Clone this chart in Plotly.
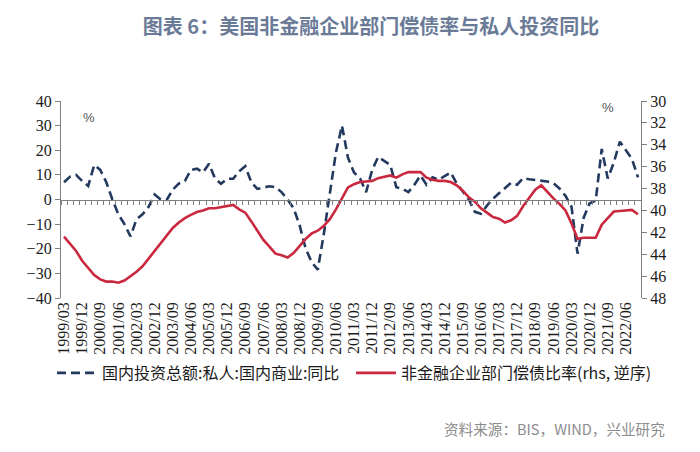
import plotly.graph_objects as go

# ---------------- data ----------------
quarters = [f"{y}/{m:02d}" for y in range(1999, 2023) for m in (3, 6, 9, 12)]

tick_labels = ["1999/03", "1999/12", "2000/09", "2001/06", "2002/03", "2002/12",
               "2003/09", "2004/06", "2005/03", "2005/12", "2006/09", "2007/06",
               "2008/03", "2008/12", "2009/09", "2010/06", "2011/03", "2011/12",
               "2012/09", "2013/06", "2014/03", "2014/12", "2015/09", "2016/06",
               "2017/03", "2017/12", "2018/09", "2019/06", "2020/03", "2020/12",
               "2021/09", "2022/06"]

# 国内投资总额:私人:国内商业:同比 (%), left axis
invest_yoy = [7, 9.3, 10, 7.5, 5.5, 14, 12, 7, 0, -6,
              -10, -15, -8, -6, -3, 2, 0, -0.2, 4, 6.5,
              7.5, 12, 12.5, 11, 14.5, 8.5, 6.4, 8.4, 8.4, 11.5,
              13.5, 7, 4.3, 5, 5.4, 5, 3, 0, -3.5, -10.5,
              -20, -25.5, -28.5, -14, 3, 19, 30, 17, 11, 8.5,
              3, 12, 17.3, 15.5, 14, 5, 4.4, 3, 6, 9.8,
              6, 9, 8, 9.5, 11, 6.5, 3, 0, -5, -5.8,
              -2.5, 0.3, 2.5, 4.5, 6.8, 6, 8.7, 8.2, 8, 7.5,
              7.3, 6.6, 4.5, 1.5, -3, -22, -7.5, -1.5, -0.5, 20.5,
              8.5, 15, 23.5, 20, 16.5, 9]

# 非金融企业部门偿债比率 (%), right axis, reversed
dsr = [42.4, 43, 43.7, 44.6, 45.3, 45.9, 46.3, 46.5, 46.5, 46.6,
       46.4, 46.0, 45.6, 45.1, 44.4, 43.6, 42.9, 42.3, 41.6, 41.1,
       40.7, 40.4, 40.15, 40.0, 39.8, 39.8, 39.7, 39.55, 39.5, 39.9,
       40.2, 41.0, 41.9, 42.7, 43.3, 43.95, 44.1, 44.3, 43.9, 43.2,
       42.6, 42.1, 41.85, 41.4, 40.8, 39.9, 38.9, 37.9, 37.6, 37.4,
       37.35, 37.3, 37.05, 36.9, 36.8, 37.0, 36.7, 36.5, 36.5, 36.5,
       37.0, 37.2, 37.3, 37.3, 37.4, 37.7, 38.2, 38.8, 39.2, 39.8,
       40.2, 40.6, 40.75, 41.1, 40.9, 40.5, 39.6, 38.8, 38.1, 37.7,
       38.3, 38.9, 39.4, 40.0, 41.2, 42.6, 42.5, 42.5, 42.5, 41.3,
       40.7, 40.1, 40.05, 40.0, 39.95, 40.35]

name_invest = "国内投资总额:私人:国内商业:同比"
name_dsr = "非金融企业部门偿债比率(rhs, 逆序)"

# ---------------- figure ----------------
AXIS = "#7f7f7f"
SERIF = "Liberation Serif, Times New Roman, serif"
CJK = "Noto Sans CJK SC, sans-serif"

plot_l, plot_r, plot_t, plot_b = 61, 641, 101, 298
W, H = 700, 452


def px_x(p):
    return (p - plot_l) / (plot_r - plot_l)


def px_y(p):
    return (plot_b - p) / (plot_b - plot_t)


fig = go.Figure()

fig.add_trace(go.Scatter(
    x=quarters, y=invest_yoy, name=name_invest, mode="lines",
    line=dict(color="#233a5e", width=2.6, dash="9px,5px"),
    xaxis="x", yaxis="y"))

fig.add_trace(go.Scatter(
    x=quarters, y=dsr, name=name_dsr, mode="lines",
    line=dict(color="#c9283e", width=2.6),
    xaxis="x", yaxis="y2"))

# helper (empty) trace so the zero-line tick axis gets drawn
fig.add_trace(go.Scatter(x=[], y=[], xaxis="x2", yaxis="y",
                         showlegend=False, hoverinfo="skip"))

n = len(quarters)
fig.update_layout(
    width=W, height=H,
    paper_bgcolor="white", plot_bgcolor="white",
    margin=dict(l=plot_l, r=W - plot_r, t=plot_t, b=H - plot_b),
    showlegend=True,
    title=dict(text="图表 6：美国非金融企业部门偿债率与私人投资同比",
               x=px_x(371), xref="paper", xanchor="center",
               y=1 - 27 / H, yref="container", yanchor="middle",
               font=dict(family=CJK, size=20, color="#6a7b98", weight="bold")),
    xaxis=dict(type="category", categoryorder="array", categoryarray=quarters,
               range=[-0.5, n - 0.5],
               tickmode="array", tickvals=tick_labels, ticktext=tick_labels,
               tickangle=-90, ticks="", showline=False, showgrid=False,
               zeroline=False,
               tickfont=dict(family=SERIF, size=16, color="#1a1a1a")),
    xaxis2=dict(overlaying="x", anchor="free", position=0.5, side="bottom",
                type="linear", range=[-0.5, n - 0.5],
                tickmode="array", tickvals=[i - 0.5 for i in range(n + 1)],
                showticklabels=False, ticks="outside", ticklen=4, tickwidth=1,
                tickcolor=AXIS, showline=True, linecolor=AXIS, linewidth=1.3,
                showgrid=False, zeroline=False),
    yaxis=dict(range=[-40, 40], dtick=10, tick0=0, showgrid=False,
               zeroline=False, showline=True, linecolor=AXIS, linewidth=1.3,
               ticks="outside", ticklen=5, tickcolor=AXIS,
               tickfont=dict(family=SERIF, size=16, color="#1a1a1a")),
    yaxis2=dict(overlaying="y", side="right", range=[48, 30], dtick=2,
                tick0=30, showgrid=False, zeroline=False, showline=True,
                linecolor=AXIS, linewidth=1.3, ticks="outside", ticklen=5,
                tickcolor=AXIS,
                tickfont=dict(family=SERIF, size=16, color="#1a1a1a")),
    legend=dict(orientation="h", xref="paper", yref="paper",
                x=px_x(52), y=px_y(373), xanchor="left", yanchor="middle",
                font=dict(family=CJK, size=16, color="#1a1a1a"),
                bgcolor="rgba(0,0,0,0)", itemwidth=40, tracegroupgap=0,
                entrywidth=244),
)

fig.add_annotation(text="%", x=px_x(89), y=px_y(117), xref="paper", yref="paper",
                   xanchor="center", yanchor="middle", showarrow=False,
                   font=dict(family="Liberation Sans, sans-serif", size=13, color="#555555"))
fig.add_annotation(text="%", x=px_x(608), y=px_y(107), xref="paper", yref="paper",
                   xanchor="center", yanchor="middle", showarrow=False,
                   font=dict(family="Liberation Sans, sans-serif", size=13, color="#555555"))
fig.add_annotation(text="资料来源：BIS，WIND，兴业研究", x=px_x(667), y=px_y(428),
                   xref="paper", yref="paper", xanchor="right", yanchor="middle",
                   showarrow=False,
                   font=dict(family=CJK, size=14.6, color="#8c8c8c"))

fig.write_html("out.html", config={"displayModeBar": False},
               post_script="document.body.style.margin='0';document.body.style.overflow='hidden';")
